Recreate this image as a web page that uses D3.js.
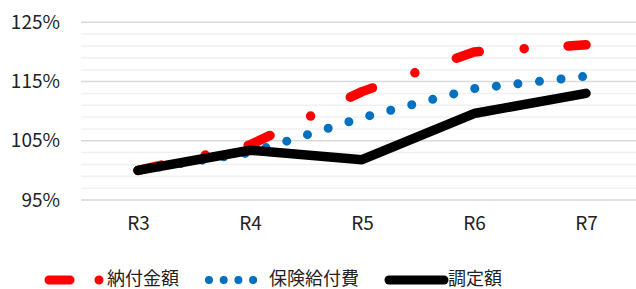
<!DOCTYPE html>
<html lang="ja">
<head>
    <meta charset="UTF-8">
    <title>納付金額・保険給付費・調定額</title>
    <script src="https://d3js.org/d3.v7.min.js"></script>
    <style>
        body { margin: 0; background: #fff; }
        svg { display: block; }
        text { font-family: "Noto Sans CJK JP", "Noto Sans", sans-serif; fill: #222; }
    </style>
</head>
<body>
    <svg id="chart" width="636" height="289"></svg>

    <script>
        // 年度
        const years = ["R3", "R4", "R5", "R6", "R7"];
        // R3 = 100%
        const nofukin = [1.000, 1.043, 1.133, 1.200, 1.212];   // 納付金額
        const kyufuhi = [1.000, 1.030, 1.089, 1.138, 1.159];   // 保険給付費
        const choteigaku = [1.000, 1.034, 1.018, 1.096, 1.130]; // 調定額
        const yTicks = [0.95, 1.05, 1.15, 1.25];
        const yMinor = [0.97, 0.99, 1.01, 1.03, 1.07, 1.09, 1.11, 1.13, 1.17, 1.19, 1.21, 1.23];

        const series = [
            { name: "納付金額", values: nofukin, color: "#ff0000", dash: "24,45,0,44" },
            { name: "保険給付費", values: kyufuhi, color: "#0070c0", dash: "0,21.7" },
            { name: "調定額", values: choteigaku, color: "#000000", dash: null }
        ];

        const svg = d3.select("#chart");

        const x = d3.scalePoint().domain(years).range([82, 642]).padding(0.5);
        const y = d3.scaleLinear().domain([0.95, 1.25]).range([200, 22.3]);

        // 補助目盛線
        svg.append("g").selectAll("line")
            .data(yMinor)
            .join("line")
            .attr("x1", 81).attr("x2", 636)
            .attr("y1", d => y(d)).attr("y2", d => y(d))
            .attr("stroke", "#f0f0f0")
            .attr("stroke-width", 1.5);

        // 目盛線
        svg.append("g").selectAll("line")
            .data(yTicks)
            .join("line")
            .attr("x1", 81).attr("x2", 636)
            .attr("y1", d => y(d)).attr("y2", d => y(d))
            .attr("stroke", "#d9d9d9")
            .attr("stroke-width", 1.5);

        // y軸ラベル
        const yAxis = d3.axisLeft(y).tickValues(yTicks).tickFormat(d3.format(".0%")).tickSize(0).tickPadding(21);
        svg.append("g")
            .attr("transform", "translate(81,0)")
            .call(yAxis)
            .call(g => g.select(".domain").remove())
            .selectAll("text")
            .attr("font-size", "19px")
            .attr("font-family", "'Noto Sans CJK JP', sans-serif")
            .attr("fill", "#222");

        // x軸ラベル
        const xAxis = d3.axisBottom(x).tickSize(0).tickPadding(17);
        svg.append("g")
            .attr("transform", "translate(0,200)")
            .call(xAxis)
            .call(g => g.select(".domain").remove())
            .selectAll("text")
            .attr("font-size", "19px")
            .attr("font-family", "'Noto Sans CJK JP', sans-serif")
            .attr("fill", "#222");

        const line = d3.line()
            .x((d, i) => x(years[i]))
            .y(d => y(d));

        // 系列 (保険給付費 → 納付金額 → 調定額 の順に重ねる)
        const order = [1, 0, 2];
        order.forEach(k => {
            const s = series[k];
            svg.append("path")
                .datum(s.values)
                .attr("d", line)
                .attr("fill", "none")
                .attr("stroke", s.color)
                .attr("stroke-width", k === 1 ? 9 : 9.5)
                .attr("stroke-linecap", "round")
                .attr("stroke-linejoin", "round")
                .attr("stroke-dasharray", s.dash);
        });

        // 凡例
        const legend = svg.append("g").attr("transform", "translate(0,279)");
        const legendItems = [
            { s: series[0], x1: 49, x2: 105, tx: 107, dash: "21,29,0,20" },
            { s: series[1], x1: 209, x2: 256, tx: 269, dash: "0,14.7" },
            { s: series[2], x1: 389, x2: 444, tx: 448, dash: null }
        ];
        legendItems.forEach(it => {
            legend.append("line")
                .attr("x1", it.x1).attr("x2", it.x2)
                .attr("y1", 1).attr("y2", 1)
                .attr("stroke", it.s.color)
                .attr("stroke-width", it.s === series[1] ? 8 : 9)
                .attr("stroke-linecap", "round")
                .attr("stroke-dasharray", it.dash);
            legend.append("text")
                .attr("x", it.tx)
                .attr("y", 0)
                .attr("dy", "0.35em")
                .attr("font-size", "18px")
                .text(it.s.name);
        });
    </script>
</body>
</html>
